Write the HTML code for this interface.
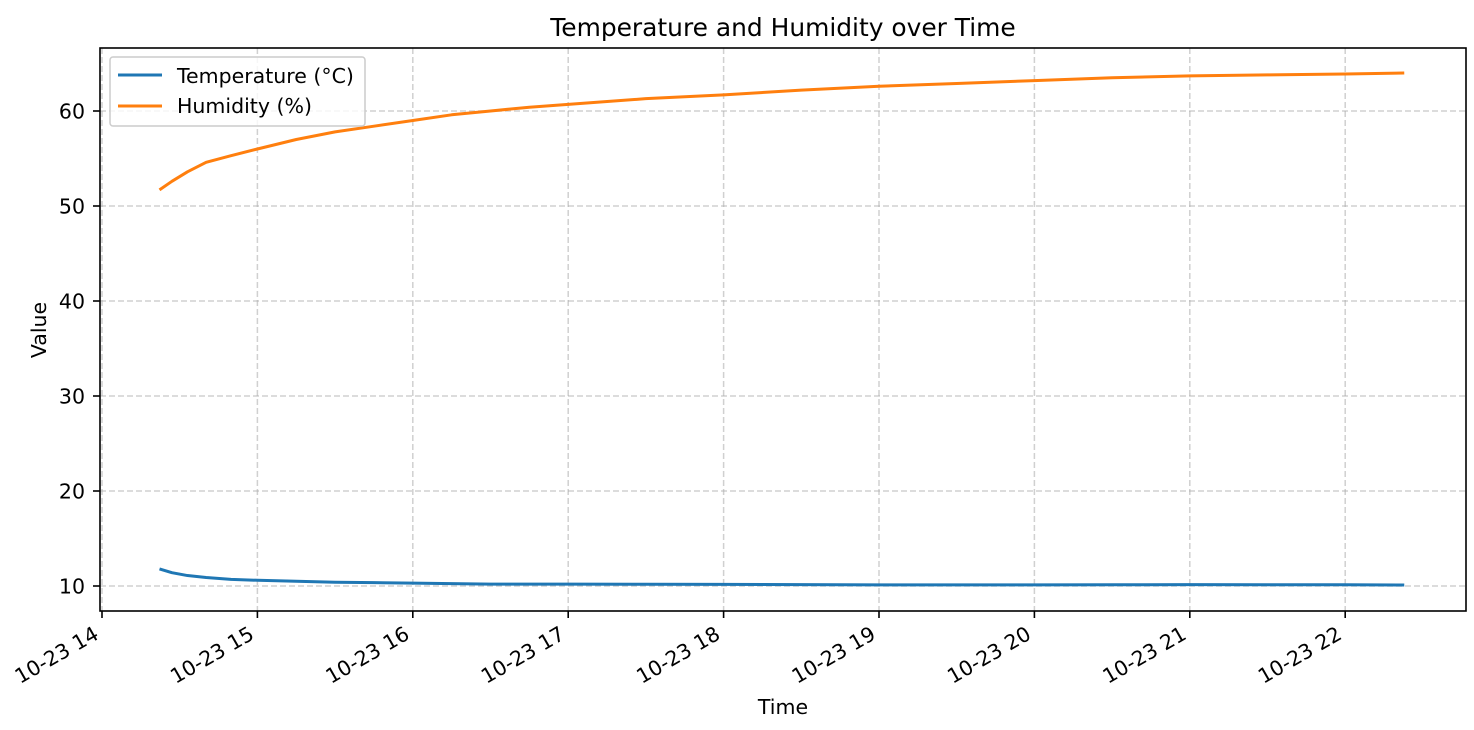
<!DOCTYPE html>
<html><head><meta charset="utf-8"><style>
html,body{margin:0;padding:0;background:#fff;}
svg{display:block;font-family:"DejaVu Sans","Liberation Sans",sans-serif;}
</style></head><body>
<svg id="chart" width="1474" height="730" viewBox="0 0 1474 730" xmlns="http://www.w3.org/2000/svg">
<text x="783" y="36" font-size="24.9" text-anchor="middle" fill="#000">Temperature and Humidity over Time</text>
<g id="grid"></g>
<g id="series"></g>
<rect x="100" y="48" width="1366" height="563" fill="none" stroke="#000" stroke-width="1.6"/>
<g id="axes"></g>
<text x="783" y="714" font-size="20.5" text-anchor="middle">Time</text>
<text transform="translate(46,330) rotate(-90)" font-size="20.5" text-anchor="middle">Value</text>
<g>
<rect x="110" y="57" width="255" height="69" rx="3" fill="#fff" fill-opacity="0.8" stroke="#ccc" stroke-width="1.5"/>
<line x1="118" y1="75" x2="162" y2="75" stroke="#1f77b4" stroke-width="3"/>
<text x="177" y="83" font-size="20.5">Temperature (°C)</text>
<line x1="118" y1="106" x2="162" y2="106" stroke="#ff7f0e" stroke-width="3"/>
<text x="177" y="113" font-size="20.5">Humidity (%)</text>
</g>
</svg>
<script>
const times = [14.37,14.45,14.55,14.67,14.83,15.0,15.25,15.5,15.75,16.0,16.25,16.5,16.75,17.0,17.5,18.0,18.5,19.0,19.5,20.0,20.5,21.0,21.5,22.0,22.38];
const humidity = [51.7,52.6,53.6,54.6,55.3,56.0,57.0,57.8,58.4,59.0,59.6,60.0,60.4,60.7,61.3,61.7,62.2,62.6,62.9,63.2,63.5,63.7,63.8,63.9,64.0];
const temperature = [11.8,11.4,11.1,10.9,10.7,10.6,10.5,10.4,10.35,10.3,10.25,10.2,10.2,10.2,10.18,10.17,10.15,10.12,10.12,10.12,10.13,10.14,10.13,10.13,10.1];
const yTicks = [10,20,30,40,50,60];
const xTicks = [14,15,16,17,18,19,20,21,22];
const xTickLabels = ["10-23 14","10-23 15","10-23 16","10-23 17","10-23 18","10-23 19","10-23 20","10-23 21","10-23 22"];

const NS="http://www.w3.org/2000/svg";
const X=h=>102+(h-14)*155.4;
const Y=v=>586-(v-10)*9.5;
function mk(t,a,p){const e=document.createElementNS(NS,t);for(const k in a)e.setAttribute(k,a[k]);p.appendChild(e);return e;}
const grid=document.getElementById('grid'),axes=document.getElementById('axes'),series=document.getElementById('series');
yTicks.forEach(v=>{
  const g=mk('line',{x1:100,x2:1466,y1:Y(v),y2:Y(v),stroke:'#b0b0b0','stroke-opacity':0.6,'stroke-width':1.5,'stroke-dasharray':'6,3'},grid);
  
  
  mk('line',{x1:93,x2:100,y1:Y(v),y2:Y(v),stroke:'#000','stroke-width':1.6},axes);
  const t=mk('text',{x:85,y:Y(v)+7.5,'font-size':20.5,'text-anchor':'end'},axes);
  t.textContent=v;
  
  
});
xTicks.forEach((h,i)=>{
  const g=mk('line',{x1:X(h),x2:X(h),y1:48,y2:611,stroke:'#b0b0b0','stroke-opacity':0.6,'stroke-width':1.5,'stroke-dasharray':'6,3'},grid);
  
  
  mk('line',{x1:X(h),x2:X(h),y1:611,y2:618,stroke:'#000','stroke-width':1.6},axes);
  const t=mk('text',{x:0,y:0,'font-size':20.5,'text-anchor':'end',transform:`translate(${X(h)-2},${638}) rotate(-30)`},axes);
  t.textContent=xTickLabels[i];
  
  
});
function line(vals,color,name){
  const p=mk('polyline',{points:times.map((h,i)=>X(h)+','+Y(vals[i])).join(' '),fill:'none',stroke:color,'stroke-width':3,'stroke-linejoin':'round'},series);
  
  
}
line(temperature,'#1f77b4','temperature-line');
line(humidity,'#ff7f0e','humidity-line');
</script>
</body></html>
